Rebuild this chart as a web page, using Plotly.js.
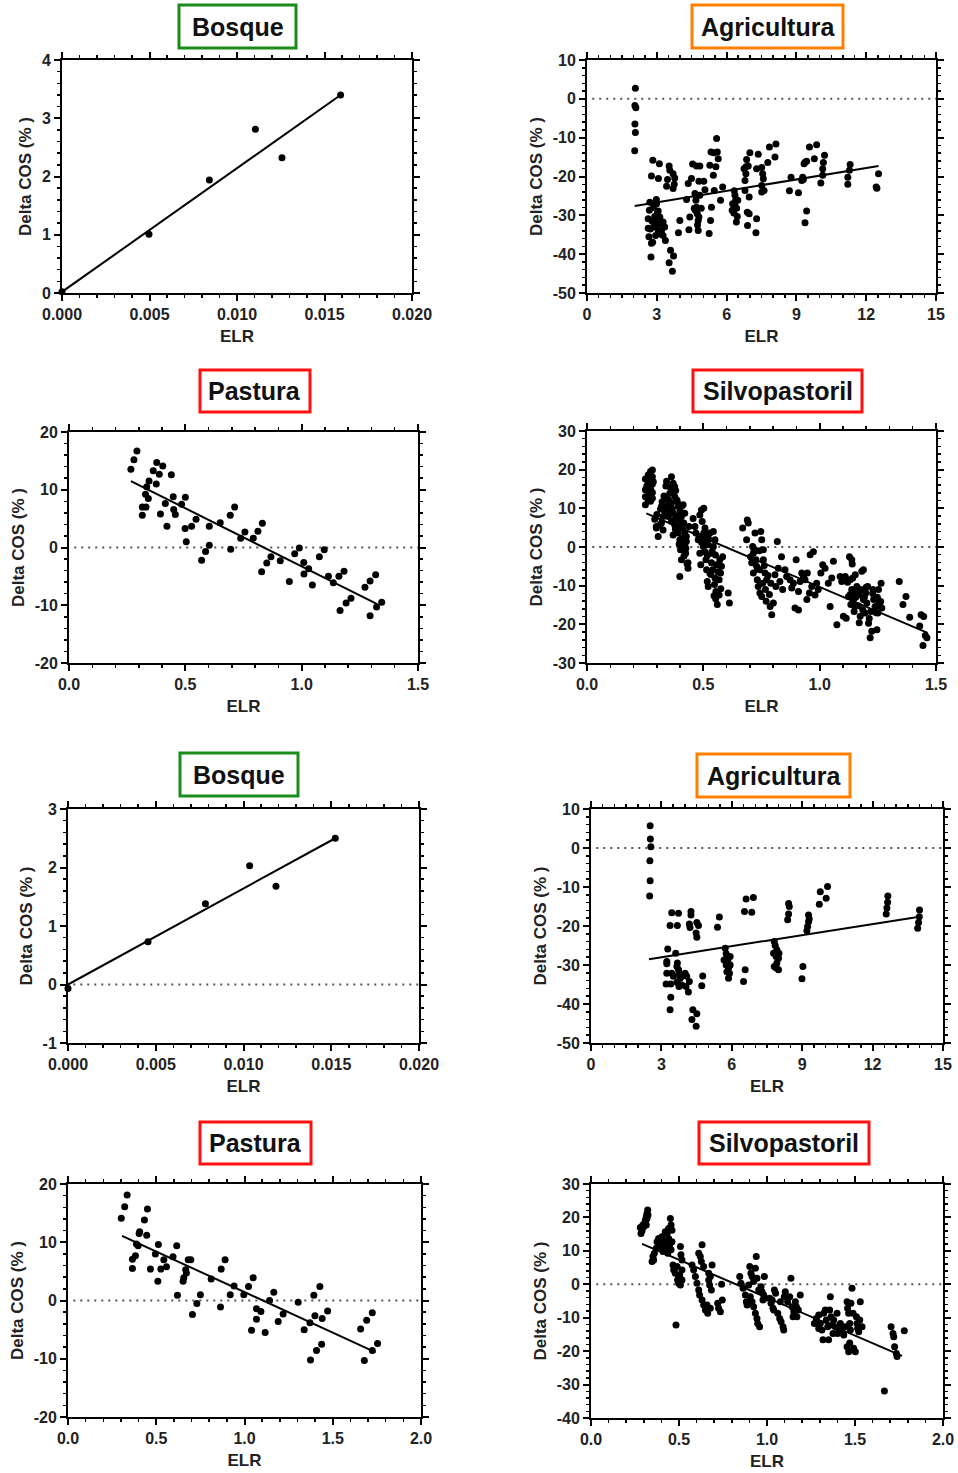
<!DOCTYPE html>
<html>
<head>
<meta charset="utf-8">
<script src="https://cdn.plot.ly/plotly-3.0.1.min.js"></script>
<style>html,body{margin:0;padding:0;background:#fff;}#chart{width:958px;height:1473px;}</style>
</head>
<body>
<div id="chart"></div>
<script>
// ---------------- DATA ----------------
const titles = ["Bosque", "Agricultura", "Pastura", "Silvopastoril", "Bosque", "Agricultura", "Pastura", "Silvopastoril"];
const xTitle = "ELR";
const yTitle = "Delta COS (% )";

// Tick values and labels
const elrTicksBosque = [0, 0.005, 0.010, 0.015, 0.020];
const elrLabelsBosque = ["0.000", "0.005", "0.010", "0.015", "0.020"];
const elrTicksAgri = [0, 3, 6, 9, 12, 15];
const elrLabelsAgri = ["0", "3", "6", "9", "12", "15"];
const elrTicks15 = [0, 0.5, 1.0, 1.5];
const elrLabels15 = ["0.0", "0.5", "1.0", "1.5"];
const elrTicks20 = [0, 0.5, 1.0, 1.5, 2.0];
const elrLabels20 = ["0.0", "0.5", "1.0", "1.5", "2.0"];
const cosTicksBosque1 = [0, 1, 2, 3, 4];
const cosLabelsBosque1 = ["0", "1", "2", "3", "4"];
const cosTicksBosque2 = [-1, 0, 1, 2, 3];
const cosLabelsBosque2 = ["-1", "0", "1", "2", "3"];
const cosTicksAgri = [-50, -40, -30, -20, -10, 0, 10];
const cosLabelsAgri = ["-50", "-40", "-30", "-20", "-10", "0", "10"];
const cosTicksPast = [-20, -10, 0, 10, 20];
const cosLabelsPast = ["-20", "-10", "0", "10", "20"];
const cosTicksSilvo1 = [-30, -20, -10, 0, 10, 20, 30];
const cosLabelsSilvo1 = ["-30", "-20", "-10", "0", "10", "20", "30"];
const cosTicksSilvo2 = [-40, -30, -20, -10, 0, 10, 20, 30];
const cosLabelsSilvo2 = ["-40", "-30", "-20", "-10", "0", "10", "20", "30"];

// Panel 1: Bosque (top)
const bosque1X = [0.0000, 0.00497, 0.00842, 0.01105, 0.01257, 0.01592];
const bosque1Y = [0.02, 1.01, 1.94, 2.81, 2.32, 3.40];
const bosque1FitX = [0.0, 0.01592];
const bosque1FitY = [0.02, 3.40];

// Panel 2: Agricultura (top)
const agri1X = [2.08,2.06,2.10,2.06,2.08,2.05,
 2.83,2.77,3.11,3.07,2.98,2.70,2.68,2.63,2.63,2.66,2.77,2.82,2.75,2.99,3.06,2.91,2.99,3.13,3.10,3.27,3.34,3.20,3.06,2.87,2.95,3.27,3.37,2.80,2.72,3.15,3.02,2.85,
 3.53,3.56,3.46,3.70,3.77,3.70,3.75,3.59,3.53,3.72,3.67,3.93,3.99,3.42,
 4.35,4.49,4.54,4.71,4.85,4.28,4.42,4.38,4.64,4.68,4.71,4.74,4.78,4.78,4.81,4.85,4.91,4.81,4.66,4.61,4.75,4.70,
 5.02,5.07,5.28,5.43,5.33,5.57,5.60,5.64,5.54,5.35,5.31,5.25,5.47,5.45,
 5.74,5.83,
 6.33,6.36,6.39,6.36,6.43,6.31,6.46,6.42,6.26,6.24,6.48,
 6.79,6.83,6.83,6.86,6.93,7.00,6.97,6.89,6.97,6.90,6.79,6.75,
 7.36,7.29,7.29,7.26,7.51,7.55,7.58,7.51,7.51,7.61,
 7.77,7.84,8.08,8.12,
 8.70,8.77,9.09,
 9.27,9.23,9.33,9.37,9.44,9.37,9.44,9.30,
 9.56,9.87,9.77,
 10.05,10.13,10.16,10.21,10.13,
 11.31,11.28,11.21,11.21,
 12.43,12.46,12.53];
const agri1Y = [2.7,-1.7,-2.3,-6.5,-8.7,-13.4,
 -15.8,-19.9,-16.7,-20.5,-25.9,-26.6,-28.7,-30.9,-33.3,-35.5,-37.2,-36.9,-40.7,-27.0,-28.9,-30.3,-31.7,-30.4,-32.2,-31.7,-33.0,-33.9,-33.9,-33.0,-35.2,-35.2,-36.5,-31.5,-33.5,-34.8,-29.5,-28.0,
 -17.3,-18.4,-20.8,-19.3,-20.4,-23.1,-22.0,-39.0,-42.2,-40.5,-44.4,-34.5,-31.3,-22.5,
 -21.8,-20.5,-16.8,-17.3,-17.3,-25.9,-30.4,-33.7,-24.4,-26.1,-27.9,-29.6,-31.3,-33.9,-21.2,-24.8,-28.2,-30.4,-28.7,-28.2,-32.5,-25.0,
 -21.2,-23.4,-17.1,-19.7,-13.7,-10.2,-13.7,-15.4,-17.5,-27.9,-31.3,-34.7,-23.6,-13.9,
 -26.1,-22.7,
 -23.7,-24.8,-26.1,-27.4,-28.2,-29.4,-30.3,-31.7,-27.0,-28.7,-26.1,
 -23.6,-19.3,-17.5,-15.6,-17.3,-13.9,-25.3,-29.2,-29.6,-32.6,-21.0,-18.0,
 -14.3,-18.0,-30.9,-34.5,-17.7,-19.3,-20.6,-22.3,-24.0,-23.6,
 -16.4,-12.4,-15.0,-11.6,
 -23.7,-20.2,-24.2,
 -20.2,-21.0,-16.7,-16.3,-16.1,-31.9,-28.9,-20.8,
 -12.4,-11.8,-15.4,
 -21.7,-18.0,-16.4,-14.5,-19.7,
 -16.9,-18.4,-20.2,-22.0,
 -22.7,-23.0,-19.3];
const agri1FitX = [2.05, 12.53];
const agri1FitY = [-27.6, -17.3];

// Panel 3: Pastura (top)
const past1X = [0.266,0.279,0.292,0.344,0.334,0.315,0.331,0.315,0.329,0.341,0.362,0.375,0.377,0.388,0.403,0.393,0.414,0.421,0.440,0.448,0.450,0.457,0.484,0.500,0.499,0.504,0.527,0.546,0.570,0.587,0.603,0.603,0.650,0.693,0.695,0.712,0.738,0.756,0.792,0.812,0.831,0.828,0.850,0.868,0.908,0.947,0.970,0.990,1.009,1.010,1.030,1.046,1.076,1.097,1.115,1.136,1.160,1.165,1.182,1.191,1.212,1.272,1.294,1.294,1.318,1.322,1.344];
const past1Y = [13.55,15.2,16.7,11.5,10.5,7.0,7.0,5.6,9.2,8.5,13.3,11.0,14.7,12.7,14.1,5.8,7.6,3.7,12.6,8.8,6.6,5.7,7.5,8.7,3.3,1.0,3.7,4.9,-2.2,-0.7,3.7,0.4,4.3,5.6,-0.3,7.0,1.6,2.7,1.6,2.8,4.2,-4.2,-2.7,-1.6,-2.3,-5.9,-1.1,-0.1,-2.6,-4.6,-3.7,-6.5,-1.6,-0.4,-5.0,-6.1,-5.0,-10.9,-4.1,-9.6,-8.8,-6.9,-5.8,-11.8,-4.7,-10.3,-9.5];
const past1FitX = [0.266, 1.325];
const past1FitY = [11.5, -9.8];

// Panel 4: Silvopastoril (top)
const silvo1X = [0.251,0.251,0.251,0.251,0.263,0.263,0.263,0.263,0.273,0.273,0.273,0.273,0.273,0.281,0.281,0.281,0.281,0.281,
 0.291,0.298,0.306,0.320,0.327,0.334,0.341,0.339,0.349,0.356,0.327,0.313,0.298,0.320,
 0.363,0.370,0.356,0.370,0.377,0.349,0.363,0.385,0.392,0.356,0.370,0.385,0.399,0.406,0.349,0.363,0.377,0.392,0.370,0.399,0.406,0.356,0.377,0.359,0.406,0.392,
 0.399,0.402,0.406,0.399,0.413,0.420,0.416,0.420,0.427,0.420,0.424,0.434,0.434,0.438,0.427,0.413,
 0.456,0.464,0.468,0.478,
 0.485,0.492,0.502,0.482,0.492,0.485,0.489,0.500,0.507,0.502,0.514,0.521,0.511,0.514,0.517,0.521,0.528,0.535,0.543,0.550,0.543,0.535,0.540,0.550,0.557,0.554,0.560,0.568,0.571,0.574,0.578,0.568,0.583,0.528,0.507,
 0.607,0.612,
 0.669,0.686,0.689,0.693,
 0.703,0.708,0.715,0.712,0.722,0.726,0.729,0.732,0.736,0.743,0.751,0.747,0.758,0.758,0.765,0.751,0.772,0.767,0.715,0.743,
 0.787,0.794,0.801,0.808,0.812,0.818,0.822,0.829,0.836,0.841,0.851,0.858,0.790,
 0.873,0.880,0.887,0.899,0.894,0.909,0.916,0.923,0.930,0.909,
 0.937,0.947,0.959,0.966,0.973,0.980,0.987,0.994,0.945,0.956,
 1.005,1.013,1.023,1.037,1.045,1.052,1.059,
 1.074,1.088,1.095,1.102,1.110,1.114,
 1.128,1.138,1.131,1.138,1.124,1.145,1.134,1.153,1.160,1.158,1.151,1.174,1.181,1.177,1.188,1.188,1.195,1.198,1.203,1.206,1.148,
 1.210,1.217,1.224,1.220,1.229,1.232,1.238,1.246,1.250,1.253,1.255,1.262,1.267,1.264,1.243,
 1.342,1.358,1.371,1.387,1.430,1.436,1.444,1.447,1.454,1.461,
 0.257,0.268,0.277,0.285,0.300,0.316,0.323,0.331,0.342,0.352,0.366,0.381,0.388,0.395,0.372,0.345,0.380,0.396,0.410,0.417,0.430,0.425,0.409,
 0.495,0.505,0.517,0.532,0.548,0.552,0.563,0.575,0.553,0.538,0.522,0.546,
 0.718,0.733,0.740,0.755,0.770,0.778,0.784,0.762,
 1.120,1.132,1.142,1.155,1.166,1.170,1.185,1.192,1.200,1.213,1.228,1.236,1.248,1.257,1.170,1.140];
const silvo1Y = [17.6,14.8,13.0,10.9,18.6,16.5,14.3,12.2,19.5,17.2,15.2,13.5,11.8,19.9,18.2,16.3,14.1,12.6,
 7.2,4.9,2.7,6.2,7.9,9.2,10.5,15.8,12.2,8.7,4.4,5.7,5.3,10.5,
 18.2,16.5,15.6,14.3,13.0,12.2,11.3,12.2,10.5,9.6,8.7,7.9,9.2,10.5,7.9,6.6,5.7,5.3,3.1,7.0,7.9,13.9,15.6,8.7,5.3,3.6,
 1.9,-0.7,-3.3,-7.6,10.9,8.7,6.2,3.6,1.4,0.6,-1.6,-4.1,-5.5,5.3,2.7,1.4,
 7.4,5.3,3.6,1.9,
 8.3,9.6,10.0,2.7,1.2,-1.6,-4.6,0.1,-1.2,3.6,1.9,0.6,-3.3,-5.9,-8.9,-10.2,-6.7,-4.1,4.0,1.9,0.1,-1.6,-5.9,-8.0,-4.6,-11.5,-14.9,-12.4,-3.3,-6.7,-5.0,-8.5,-2.5,3.6,4.9,
 -11.9,-14.5,
 4.9,1.9,7.0,6.2,
 -2.5,-4.1,-6.7,0.1,3.6,-3.3,-5.0,-8.5,-10.2,-11.9,1.9,4.0,-0.7,-3.3,-6.7,-12.8,-8.5,-11.0,-1.6,-5.9,
 -15.4,-17.5,-14.5,-7.2,-10.2,1.4,-5.5,-8.9,-2.5,-11.0,-5.9,-7.6,-9.4,
 -8.5,-10.6,-9.4,-3.3,-15.8,-16.3,-8.9,-6.7,-7.6,-11.5,
 -8.5,-6.7,-2.0,-10.2,-1.2,-12.4,-9.4,-11.0,-13.6,-11.9,
 -6.7,-4.6,-5.5,-9.4,-15.4,-8.0,-3.7,
 -20.1,-7.6,-8.9,-17.9,-7.6,-18.4,
 -2.5,-3.3,-8.5,-11.0,-12.8,-13.6,-14.9,-7.2,-10.2,-11.9,-15.4,-17.9,-6.3,-11.0,-13.6,-5.9,-17.1,-11.9,-14.5,-10.2,-16.7,
 -19.7,-23.5,-21.8,-16.7,-11.0,-13.6,-15.4,-21.4,-17.1,-11.0,-14.5,-14.1,-15.8,-9.4,-17.0,
 -8.9,-14.9,-12.8,-18.2,-20.4,-17.5,-25.5,-18.0,-22.9,-23.5,
 15.8,13.0,17.9,16.9,8.4,9.8,11.7,13.2,17.0,11.0,9.8,14.6,11.8,8.1,6.9,9.9,4.6,0.8,4.9,-2.3,-4.3,-0.3,2.2,
 6.6,2.5,-2.2,-7.1,-9.7,-2.1,-6.4,-10.8,-13.4,-1.1,2.2,-12.6,
 -0.5,-5.7,-1.0,-9.4,-14.0,-7.4,-12.3,-4.8,
 -9.1,-12.2,-8.0,-13.0,-15.2,-12.4,-16.2,-13.0,-10.4,-18.5,-12.0,-16.6,-13.0,-15.2,-19.6,-4.4];
const silvo1FitX = [0.255, 1.464];
const silvo1FitY = [8.7, -22.2];

// Panel 5: Bosque (bottom)
const bosque2X = [0.0000, 0.00456, 0.00783, 0.01035, 0.01185, 0.01523];
const bosque2Y = [-0.07, 0.73, 1.38, 2.03, 1.68, 2.50];
const bosque2FitX = [0.0, 0.01523];
const bosque2FitY = [0.0, 2.50];

// Panel 6: Agricultura (bottom)
const agri2X = [2.52,2.53,2.55,2.51,2.52,2.50,
 3.27,3.23,3.23,3.23,3.20,3.44,3.37,3.40,3.40,3.37,3.44,3.51,
 3.61,3.73,3.68,3.66,3.73,3.75,3.80,3.66,3.75,3.87,3.87,3.68,
 4.01,4.08,4.05,4.15,4.19,4.22,4.26,4.26,4.19,
 4.34,4.30,4.51,4.48,4.51,4.58,4.48,4.51,4.76,4.72,
 5.39,5.47,
 5.72,5.76,5.79,5.83,5.76,5.86,5.79,5.90,5.86,5.67,5.93,5.93,
 6.54,6.61,6.85,6.92,6.57,6.50,
 7.81,7.85,7.78,7.89,7.92,7.99,7.92,7.89,7.99,7.81,8.01,
 8.42,8.45,8.42,8.38,
 9.03,8.99,
 9.27,9.30,9.23,9.20,9.27,
 9.73,9.77,10.02,10.08,
 12.65,12.64,12.61,12.58,
 14.00,13.99,13.96,13.92];
const agri2Y = [5.7,2.3,0.3,-3.3,-8.4,-12.3,
 -25.9,-29.1,-29.7,-32.1,-34.9,-16.6,-19.9,-34.9,-38.3,-41.5,-32.1,-32.9,
 -27.0,-16.7,-19.9,-30.4,-31.2,-32.1,-33.4,-34.4,-35.5,-32.9,-35.1,-29.5,
 -32.1,-32.9,-35.5,-36.9,-34.2,-20.4,-16.3,-17.2,-19.5,
 -41.5,-44.0,-42.5,-45.7,-19.1,-19.9,-21.8,-22.9,-32.8,-35.3,
 -20.3,-17.7,
 -25.7,-27.1,-28.4,-29.1,-30.0,-30.8,-31.7,-32.1,-33.4,-28.7,-27.8,-30.0,
 -16.3,-13.1,-16.5,-12.7,-31.2,-34.2,
 -24.0,-25.0,-27.0,-27.8,-26.1,-28.3,-29.5,-30.8,-31.2,-30.4,-27.0,
 -14.2,-15.0,-16.9,-18.4,
 -30.4,-33.5,
 -17.2,-18.2,-20.1,-21.2,-18.9,
 -14.4,-11.2,-12.9,-9.9,
 -12.3,-13.9,-15.4,-16.9,
 -15.9,-17.6,-19.1,-20.6];
const agri2FitX = [2.47, 14.0];
const agri2FitY = [-28.5, -17.6];

// Panel 7: Pastura (bottom)
const past2X = [0.302,0.321,0.335,0.365,0.365,0.382,0.388,0.397,0.403,0.406,0.433,0.450,0.446,0.467,0.495,0.509,0.512,0.526,0.543,0.558,0.595,0.616,0.620,0.652,0.656,0.667,0.671,0.681,0.696,0.705,0.730,0.750,0.811,0.864,0.868,0.890,0.919,0.941,0.996,1.023,1.040,1.049,1.068,1.068,1.093,1.117,1.142,1.166,1.191,1.219,1.304,1.338,1.371,1.374,1.393,1.399,1.408,1.427,1.437,1.440,1.471,1.658,1.679,1.692,1.724,1.724,1.754];
const past2Y = [14.1,16.1,18.1,7.1,5.5,7.7,9.7,9.4,11.5,11.8,13.8,15.7,11.2,5.4,8.0,3.3,9.6,5.4,7.0,5.8,7.5,9.4,0.9,3.3,3.9,5.3,4.7,7.0,7.0,-2.4,-0.5,1.0,3.7,-1.1,5.4,7.0,1.0,2.5,1.0,2.4,-5.1,3.9,-1.4,-3.2,-1.9,-5.5,0.0,1.4,-3.6,-2.3,-0.3,-5.0,-3.8,-10.2,0.9,-2.6,-8.6,2.4,-7.5,-3.1,-1.8,-4.9,-10.3,-3.4,-2.1,-8.6,-7.4];
const past2FitX = [0.306, 1.743];
const past2FitY = [11.1, -8.9];

// Panel 8: Silvopastoril (bottom)
const silvo2X = [0.284,0.290,0.295,0.303,0.309,0.314,0.318,0.322,0.290,0.299,0.310,0.318,0.324,0.280,0.314,
 0.347,0.352,0.360,0.371,0.375,0.384,0.356,
 0.394,0.403,0.413,0.422,0.432,0.441,0.451,0.455,0.460,0.447,0.428,0.436,0.409,0.390,0.460,0.455,0.441,0.422,
 0.466,0.470,0.479,0.489,0.492,0.498,0.498,0.508,0.511,0.517,0.508,0.504,0.517,0.483,0.517,
 0.574,0.583,0.593,0.602,0.612,0.621,0.627,0.631,0.617,0.631,0.640,0.640,0.612,
 0.650,0.659,0.669,0.674,0.678,0.684,0.688,0.663,0.678,0.669,
 0.720,0.725,0.735,0.746,0.742,
 0.845,0.852,0.864,0.877,0.883,0.887,
 0.902,0.909,0.915,0.924,0.934,0.939,0.905,0.915,0.924,0.934,0.943,0.947,0.958,0.953,0.943,0.896,
 0.966,0.972,0.981,0.985,0.991,0.977,
 1.015,1.023,1.034,1.042,1.049,1.038,1.029,
 1.061,1.072,1.080,1.091,1.095,1.076,1.104,1.098,
 1.117,1.129,1.136,1.142,1.152,1.161,1.170,1.178,1.189,1.148,1.167,
 1.269,1.280,1.294,1.303,1.312,1.318,1.331,1.337,1.345,1.350,1.360,1.364,1.369,1.375,1.322,1.356,1.294,1.379,
 1.388,1.398,1.407,1.417,1.426,1.436,1.445,1.455,1.458,1.464,1.470,1.474,1.455,1.464,1.401,
 1.483,1.477,1.489,1.492,1.502,1.470,1.508,1.511,1.515,1.527,1.530,1.540,1.521,
 1.705,1.716,1.720,1.725,1.735,1.739,1.780,1.667];
const silvo2Y = [15.2,16.7,17.7,18.2,19.2,20.2,21.2,22.2,16.0,17.2,18.7,19.7,20.7,17.0,17.7,
 6.8,8.3,9.3,10.8,12.7,13.7,7.3,
 11.3,14.2,12.7,10.3,15.2,13.7,19.7,17.7,16.2,11.8,11.8,9.3,9.8,12.7,12.7,10.3,16.7,15.7,
 5.8,4.3,3.3,5.3,1.3,2.3,0.3,11.3,8.8,7.3,-0.2,2.8,4.3,-12.2,1.3,
 5.8,4.3,2.3,0.3,-1.7,8.3,6.8,11.8,-3.2,-4.7,5.3,-6.2,9.3,
 -7.7,-6.2,1.3,-0.2,2.3,-1.7,5.8,-8.7,-7.2,3.3,
 -5.7,-7.2,-8.2,-4.7,0.0,
 2.3,0.3,-1.2,-3.2,-5.2,-6.2,
 5.3,3.3,2.3,0.8,4.8,8.3,-3.7,-5.2,-6.7,-8.7,-10.2,-11.7,-12.7,-1.7,1.8,-0.2,
 -0.7,-2.2,-3.2,2.3,-4.2,-4.7,
 -4.2,-5.7,-7.2,-1.7,-2.7,-7.7,-4.7,
 -8.7,-10.2,-11.2,-12.7,-13.7,-5.2,-2.2,-3.7,
 -5.2,-3.7,1.8,-6.7,-8.2,-5.2,-9.7,-7.7,-3.2,-9.7,-6.7,
 -11.7,-10.2,-9.2,-11.7,-13.7,-16.6,-7.7,-10.7,-12.7,-16.6,-3.7,-9.7,-12.2,-14.7,-8.7,-7.7,-13.2,-10.7,
 -12.7,-8.7,-14.2,-11.7,-13.2,-15.2,-12.7,-5.2,-7.2,-8.7,-11.7,-13.7,-18.7,-20.2,-14.7,
 -1.2,-5.7,-8.7,-19.1,-20.2,-17.6,-9.7,-11.7,-13.2,-10.7,-5.2,-12.7,-14.2,
 -12.7,-14.7,-15.7,-18.7,-20.7,-21.6,-13.9,-31.9];
const silvo2FitX = [0.29, 1.767];
const silvo2FitY = [12.1, -21.4];

// ---------------- LAYOUT HELPERS ----------------
const FONT = 'Arial, "Liberation Sans", sans-serif';
const W = 958, H = 1473;
const boxColors = {green: '#1a8c1a', orange: '#ff8000', red: '#ff1010'};

const panels = [
  {x: bosque1X, y: bosque1Y, fx: bosque1FitX, fy: bosque1FitY, px: [62, 412], py: [60, 293],
   xr: [0, 0.02], xt: elrTicksBosque, xl: elrLabelsBosque, xm: 0.001, yr: [0, 4], yt: cosTicksBosque1, yl: cosLabelsBosque1, ym: 0.2, zero: false,
   box: [179, 296, 5, 48], col: boxColors.green},
  {x: agri1X, y: agri1Y, fx: agri1FitX, fy: agri1FitY, px: [587, 936], py: [60, 293],
   xr: [0, 15], xt: elrTicksAgri, xl: elrLabelsAgri, xm: 0.5, yr: [-50, 10], yt: cosTicksAgri, yl: cosLabelsAgri, ym: 2, zero: true,
   box: [692, 843, 5, 48], col: boxColors.orange},
  {x: past1X, y: past1Y, fx: past1FitX, fy: past1FitY, px: [69, 418], py: [432, 663],
   xr: [0, 1.5], xt: elrTicks15, xl: elrLabels15, xm: 0.1, yr: [-20, 20], yt: cosTicksPast, yl: cosLabelsPast, ym: 2, zero: true,
   box: [200, 310, 370, 412], col: boxColors.red},
  {x: silvo1X, y: silvo1Y, fx: silvo1FitX, fy: silvo1FitY, px: [587, 936], py: [431, 663],
   xr: [0, 1.5], xt: elrTicks15, xl: elrLabels15, xm: 0.1, yr: [-30, 30], yt: cosTicksSilvo1, yl: cosLabelsSilvo1, ym: 2, zero: true,
   box: [693, 862, 370, 412], col: boxColors.red},
  {x: bosque2X, y: bosque2Y, fx: bosque2FitX, fy: bosque2FitY, px: [68, 419], py: [809, 1043],
   xr: [0, 0.02], xt: elrTicksBosque, xl: elrLabelsBosque, xm: 0.001, yr: [-1, 3], yt: cosTicksBosque2, yl: cosLabelsBosque2, ym: 0.2, zero: true,
   box: [180, 298, 753, 796], col: boxColors.green},
  {x: agri2X, y: agri2Y, fx: agri2FitX, fy: agri2FitY, px: [591, 943], py: [809, 1043],
   xr: [0, 15], xt: elrTicksAgri, xl: elrLabelsAgri, xm: 0.5, yr: [-50, 10], yt: cosTicksAgri, yl: cosLabelsAgri, ym: 2, zero: true,
   box: [697, 850, 754, 797], col: boxColors.orange},
  {x: past2X, y: past2Y, fx: past2FitX, fy: past2FitY, px: [68, 421], py: [1184, 1417],
   xr: [0, 2], xt: elrTicks20, xl: elrLabels20, xm: 0.1, yr: [-20, 20], yt: cosTicksPast, yl: cosLabelsPast, ym: 2, zero: true,
   box: [200, 311, 1122, 1164], col: boxColors.red},
  {x: silvo2X, y: silvo2Y, fx: silvo2FitX, fy: silvo2FitY, px: [591, 943], py: [1184, 1418],
   xr: [0, 2], xt: elrTicks20, xl: elrLabels20, xm: 0.1, yr: [-40, 30], yt: cosTicksSilvo2, yl: cosLabelsSilvo2, ym: 2, zero: true,
   box: [699, 869, 1122, 1164], col: boxColors.red}
];

const traces = [];
const layout = {
  width: W, height: H,
  margin: {l: 0, r: 0, t: 0, b: 0},
  paper_bgcolor: '#ffffff', plot_bgcolor: '#ffffff',
  showlegend: false,
  font: {family: FONT, color: '#1a1a1a'},
  shapes: [], annotations: []
};

function axisCommon(range, tickvals, ticktext, minorDtick) {
  return {
    range: range, autorange: false,
    tickmode: 'array', tickvals: tickvals, ticktext: ticktext,
    showgrid: false, zeroline: false,
    showline: true, linecolor: '#000', linewidth: 2, mirror: 'allticks',
    ticks: 'outside', ticklen: 6, tickwidth: 2, tickcolor: '#000',
    minor: {ticks: 'outside', ticklen: 3, tickwidth: 1.5, tickcolor: '#000',
            tickmode: 'linear', tick0: 0, dtick: minorDtick, showgrid: false},
    tickfont: {family: FONT, size: 16, color: '#222', weight: 'bold'},
    fixedrange: true
  };
}

panels.forEach((p, i) => {
  const n = i + 1;
  const xs = n === 1 ? 'x' : 'x' + n;
  const ys = n === 1 ? 'y' : 'y' + n;
  const xk = n === 1 ? 'xaxis' : 'xaxis' + n;
  const yk = n === 1 ? 'yaxis' : 'yaxis' + n;

  const xa = axisCommon(p.xr, p.xt, p.xl, p.xm);
  xa.domain = [p.px[0] / W, p.px[1] / W];
  xa.anchor = ys;
  xa.title = {text: xTitle, font: {family: FONT, size: 17, color: '#222', weight: 'bold'}, standoff: 8};
  const ya = axisCommon(p.yr, p.yt, p.yl, p.ym);
  ya.domain = [1 - p.py[1] / H, 1 - p.py[0] / H];
  ya.anchor = xs;
  ya.title = {text: yTitle, font: {family: FONT, size: 17, color: '#222', weight: 'bold'}, standoff: 6};
  layout[xk] = xa;
  layout[yk] = ya;

  if (p.zero) {
    layout.shapes.push({
      type: 'line', xref: xs + ' domain', yref: ys, x0: 0.015, x1: 1, y0: 0, y1: 0,
      line: {color: '#555', width: 2, dash: '2px,5px'}, layer: 'below'
    });
  }

  traces.push({
    type: 'scatter', mode: 'markers', x: p.x, y: p.y, xaxis: xs, yaxis: ys,
    marker: {color: '#000', size: 7}, cliponaxis: false, hoverinfo: 'skip'
  });
  traces.push({
    type: 'scatter', mode: 'lines', x: p.fx, y: p.fy, xaxis: xs, yaxis: ys,
    line: {color: '#000', width: 2}, hoverinfo: 'skip'
  });

  // title box
  const b = p.box;
  layout.shapes.push({
    type: 'rect', xref: 'paper', yref: 'paper',
    x0: b[0] / W, x1: b[1] / W, y0: 1 - b[3] / H, y1: 1 - b[2] / H,
    line: {color: p.col, width: 3}, fillcolor: 'rgba(0,0,0,0)'
  });
  layout.annotations.push({
    xref: 'paper', yref: 'paper', x: (b[0] + b[1]) / 2 / W, y: 1 - (b[2] + b[3]) / 2 / H,
    xanchor: 'center', yanchor: 'middle', showarrow: false, text: titles[i],
    font: {family: FONT, size: 25, color: '#111', weight: 'bold'}
  });
});

Plotly.newPlot('chart', traces, layout, {staticPlot: true, displayModeBar: false});
</script>
</body>
</html>
